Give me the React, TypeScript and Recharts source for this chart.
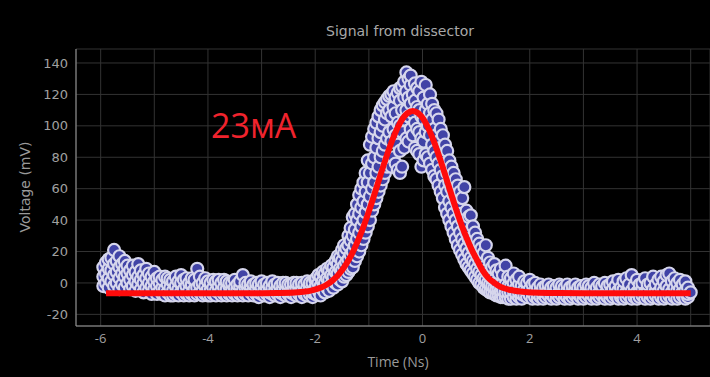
import { CartesianGrid, ComposedChart, Line, Scatter, XAxis, YAxis } from "recharts"

const WIDTH = 710
const HEIGHT = 377

// each row: time (ns), then the voltages (mV) read at about that time
const baselineBefore: number[][] = [
  [-5.95, -2, 4, 10], [-5.9, 0, 6, 13], [-5.85, -3, 3, 9, 15], [-5.8, 1, 8, 16],
  [-5.75, -2, 5, 12, 21], [-5.7, 0, 7, 14], [-5.65, -4, 3, 10, 17], [-5.6, -1, 6, 12],
  [-5.55, -3, 4, 9, 14], [-5.5, 0, 6, 11], [-5.45, -4, 2, 8], [-5.4, -2, 5, 11],
  [-5.35, -5, 1, 7], [-5.3, -1, 4, 12], [-5.25, -4, 2, 8], [-5.2, -6, 0, 5],
  [-5.15, -3, 3, 9], [-5.1, -5, 0, 6], [-5.05, -7, -2, 4], [-5.0, -4, 1, 7],
  [-4.95, -7, -2, 3], [-4.9, -5, 0, 4], [-4.85, -7, -3, 2], [-4.8, -8, -4, 4],
  [-4.75, -6, -1, 3], [-4.7, -8, -3, 2], [-4.65, -8, -5, 1], [-4.6, -7, -2, 4],
  [-4.55, -8, -4, 1], [-4.5, -6, 0, 5], [-4.45, -8, -4, 2], [-4.4, -7, -2, 3],
  [-4.35, -8, -5, 0], [-4.3, -7, -1, 3], [-4.25, -8, -4, 2], [-4.2, -7, -3, 9],
  [-4.15, -6, -1, 4], [-4.1, -8, -5, 0], [-4.05, -7, -2, 3], [-4.0, -8, -4, 1],
  [-3.95, -8, -5, 0], [-3.9, -7, -3, 2], [-3.85, -8, -5, 1], [-3.8, -6, -2, 2],
  [-3.75, -8, -5, 0], [-3.7, -7, -3, 2], [-3.65, -8, -4, 1], [-3.6, -7, -2, 0],
  [-3.55, -8, -5, 0], [-3.5, -7, -3, 2], [-3.45, -8, -4, -1], [-3.4, -7, -2, 1],
  [-3.35, -8, -5, 5], [-3.3, -7, -3, 0], [-3.25, -8, -4, -1], [-3.2, -6, -2, 1],
  [-3.15, -8, -5, -1], [-3.1, -7, -3, 0], [-3.05, -9, -6, -1], [-3.0, -7, -3, 1],
  [-2.95, -8, -5, -1], [-2.9, -7, -3, 0], [-2.85, -9, -6, -2], [-2.8, -7, -3, 1],
  [-2.75, -8, -5, -1], [-2.7, -7, -3, 0], [-2.65, -9, -6, -2], [-2.6, -7, -3, 0],
  [-2.55, -8, -5, 0], [-2.5, -7, -3, -1], [-2.45, -9, -6, -1], [-2.4, -7, -3, 0],
  [-2.35, -8, -4, 0], [-2.3, -7, -5, -1], [-2.25, -9, -4, 0], [-2.2, -7, -5, -1],
  [-2.15, -8, -3, 1], [-2.1, -7, -4, 0], [-2.05, -9, -6, 0], [-2.0, -7, -3, 2],
]

const pulseRise: number[][] = [
  [-1.98, -7, -2, 3], [-1.94, -5, 0, 5], [-1.9, -8, -2, 4], [-1.86, -4, 1, 7],
  [-1.82, -6, 0, 6], [-1.78, -3, 3, 9], [-1.74, -5, 2, 8], [-1.7, -1, 5, 11],
  [-1.66, -3, 4, 10], [-1.62, 0, 7, 14], [-1.58, -1, 6, 12, 17], [-1.54, 2, 9, 16],
  [-1.5, 1, 8, 14, 21], [-1.46, 4, 11, 19, 24], [-1.42, 5, 13, 22], [-1.38, 7, 15, 24, 30],
  [-1.34, 9, 18, 27, 35], [-1.3, 10, 20, 30, 42], [-1.26, 14, 24, 34, 44], [-1.22, 17, 28, 40, 50],
  [-1.18, 20, 32, 44, 56], [-1.14, 24, 36, 48, 60], [-1.1, 28, 40, 52, 64], [-1.06, 32, 45, 58, 70],
  [-1.02, 36, 50, 64, 78], [-0.98, 40, 55, 70, 88], [-0.94, 46, 60, 76, 93], [-0.9, 50, 64, 80, 98],
  [-0.86, 54, 70, 86, 102], [-0.82, 58, 74, 92, 106], [-0.78, 62, 80, 96, 110],
]

const pulsePeak: number[][] = [
  [-0.74, 66, 84, 100, 113], [-0.7, 70, 88, 104, 115], [-0.66, 74, 92, 108, 117],
  [-0.62, 78, 96, 110, 119], [-0.58, 74, 90, 106, 120], [-0.54, 80, 98, 112, 122],
  [-0.5, 76, 94, 108, 118], [-0.46, 72, 88, 102, 121], [-0.42, 70, 84, 100, 116, 124],
  [-0.38, 74, 96, 110, 125], [-0.34, 86, 104, 118, 128], [-0.3, 92, 110, 122, 134],
  [-0.26, 90, 106, 118, 130], [-0.22, 98, 114, 126, 132], [-0.18, 94, 108, 120],
  [-0.14, 86, 102, 116, 127], [-0.1, 84, 98, 112, 124], [-0.06, 82, 96, 110, 122],
  [-0.02, 74, 92, 106, 128], [0.02, 78, 90, 104, 118], [0.06, 82, 96, 110, 126],
  [0.1, 80, 100, 114], [0.14, 76, 94, 108, 120], [0.18, 72, 88, 104, 114],
  [0.22, 68, 84, 98, 110], [0.26, 66, 80, 94, 108],
]

const pulseFall: number[][] = [
  [0.3, 62, 76, 90, 104], [0.34, 58, 72, 86, 98], [0.38, 54, 68, 80, 94], [0.42, 48, 62, 76, 88],
  [0.46, 44, 58, 70, 84], [0.5, 40, 52, 64, 78], [0.54, 36, 48, 60, 74], [0.58, 32, 44, 56, 70],
  [0.62, 28, 40, 52, 66], [0.66, 24, 36, 48, 62], [0.7, 21, 32, 44, 58], [0.74, 18, 28, 40, 54],
  [0.78, 15, 25, 36, 61], [0.82, 12, 22, 32, 46], [0.86, 10, 19, 28, 42], [0.9, 8, 16, 26, 43],
  [0.94, 6, 14, 22, 36], [0.98, 4, 12, 20, 32], [1.02, 2, 9, 17, 28], [1.06, 0, 7, 14, 25],
  [1.1, -1, 5, 12, 22], [1.14, -3, 3, 10, 19], [1.18, -4, 2, 8, 24], [1.22, -5, 0, 6, 16],
  [1.26, -6, -1, 4, 13], [1.3, -6, -2, 3, 10], [1.34, -7, -3, 2, 12], [1.38, -8, -4, 0, 8],
  [1.42, -8, -4, 1, 6], [1.46, -9, -5, -1, 9], [1.5, -9, -5, 0, 5], [1.55, -9, -6, -1, 11],
  [1.6, -10, -6, -2, 4], [1.65, -10, -6, -2, 3], [1.7, -9, -5, 0, 6], [1.75, -10, -7, -3, 2],
  [1.8, -9, -6, -1, 4], [1.85, -10, -7, -2], [1.9, -8, -4, 1],
]

const baselineAfter: number[][] = [
  [1.95, -9, -5, 0], [2.0, -8, -4, 2], [2.05, -10, -6, -1], [2.1, -9, -5, 0],
  [2.15, -10, -7, -3], [2.2, -9, -5, -1], [2.25, -10, -7, -3], [2.3, -9, -6, -2],
  [2.35, -8, -4, -1], [2.4, -10, -7, -3], [2.45, -9, -5, -2], [2.5, -10, -7, -3],
  [2.55, -9, -6, -1], [2.6, -8, -4, -2], [2.65, -10, -7, -3], [2.7, -9, -5, -1],
  [2.75, -10, -7, -3], [2.8, -9, -6, -2], [2.85, -8, -4, -1], [2.9, -10, -7, -3],
  [2.95, -9, -5, -2], [3.0, -10, -7, -3], [3.05, -9, -6, -1], [3.1, -8, -4, -2],
  [3.15, -10, -7, -3], [3.2, -9, -5, 0], [3.25, -10, -7, -3], [3.3, -9, -6, -1],
  [3.35, -8, -4, -2], [3.4, -10, -7, 0], [3.45, -9, -5, -2], [3.5, -10, -7, -1],
  [3.55, -9, -4, 1], [3.6, -8, -6, -2], [3.65, -10, -5, 2], [3.7, -9, -7, -3],
  [3.75, -10, -4, 1], [3.8, -9, -6, 3], [3.85, -8, -4, -1], [3.9, -10, -5, 5],
  [3.95, -9, -6, -2], [4.0, -10, -6, 2], [4.05, -9, -5, -1], [4.1, -8, -4, 0],
  [4.15, -10, -6, 3], [4.2, -9, -5, -1], [4.25, -10, -7, 0], [4.3, -9, -4, 4],
  [4.35, -8, -5, -1], [4.4, -10, -6, 2], [4.45, -9, -3, 4], [4.5, -10, -5, 1],
  [4.55, -9, -2, 5], [4.6, -8, -4, 6], [4.65, -10, -6, 1], [4.7, -9, -3, 3],
  [4.75, -10, -5, 0], [4.8, -9, -4, 2], [4.85, -8, -6, -1], [4.9, -10, -5, 1],
  [4.95, -9, -7, -3], [5.0, -6],
]

// gaussian fit (red curve)
const fitTimes = [
  -5.9, -3.0, -2.7, -2.38, -2.18, -2.08, -1.98, -1.88, -1.78, -1.68, -1.58, -1.48, -1.38,
  -1.28, -1.18, -1.08, -0.98, -0.88, -0.78, -0.68, -0.58, -0.48, -0.38, -0.28, -0.18, -0.08,
  0.02, 0.12, 0.22, 0.32, 0.42, 0.52, 0.62, 0.72, 0.82, 0.92, 1.02, 1.12, 1.22, 1.32, 1.42,
  1.52, 1.62, 1.72, 1.82, 2.02, 2.34, 3.0, 5.0,
]
const fitVolts = [
  -6.5, -6.5, -6.4, -6.1, -5.5, -4.9, -4.0, -2.8, -1.0, 1.5, 4.8, 9.0, 14.4,
  21.0, 28.8, 37.7, 47.6, 58.2, 69.1, 79.6, 89.4, 97.7, 104.1, 108.1, 109.5, 108.1,
  104.1, 97.7, 89.4, 79.6, 69.1, 58.2, 47.6, 37.7, 28.8, 21.0, 14.4, 8.0, 3.5, 0.5, -1.8,
  -3.4, -4.3, -5.0, -5.5, -6.1, -6.4, -6.5, -6.6,
]

const xTicks = [-6, -5, -4, -3, -2, -1, 0, 1, 2, 3, 4, 5]
const yTicks = [-20, 0, 20, 40, 60, 80, 100, 120, 140]
const xDomain = [-6.46, 5.36]
const yDomain = [-27.4, 148.9]

function toPoints(rows: number[][]) {
  return rows.flatMap(([t, ...vs]) => vs.map((v) => ({ t, v })))
}

const samples = [
  ...toPoints(baselineBefore),
  ...toPoints(pulseRise),
  ...toPoints(pulsePeak),
  ...toPoints(pulseFall),
  ...toPoints(baselineAfter),
]
const fit = fitTimes.map((t, i) => ({ t, v: fitVolts[i] }))

const Dot = (props: any) => (
  <circle cx={props.cx} cy={props.cy} r={6} fill="#4143a6" stroke="#d6d6ec" strokeWidth={2.2} />
)

const tickStyle = { fontSize: 13, fill: "#a0a0a0", fontFamily: "DejaVu Sans" }
const labelColor = "#9a9a9a"
const layer = { position: "absolute" as const, left: 0, top: 0 }

export default function App() {
  return (
    <div
      style={{
        ...layer,
        width: WIDTH,
        height: HEIGHT,
        background: "#000",
        overflow: "hidden",
      }}
    >
      <div style={layer}>
        <ComposedChart
          width={WIDTH}
          height={HEIGHT}
          margin={{ top: 49, right: 0, bottom: 21, left: 30 }}
        >
          <CartesianGrid stroke="#333" strokeWidth={1} />
          <XAxis
            type="number"
            dataKey="t"
            domain={xDomain}
            ticks={xTicks}
            allowDataOverflow
            height={30}
            tickLine={false}
            stroke="#9a9a9a"
            tick={{ ...tickStyle, fontFamily: "Open Sans" }}
            tickFormatter={(v: number) => (v % 2 === 0 ? String(v) : "")}
          />
          <YAxis
            type="number"
            dataKey="v"
            domain={yDomain}
            ticks={yTicks}
            allowDataOverflow
            width={46}
            tickLine={false}
            stroke="#9a9a9a"
            tick={tickStyle}
          />
          <Scatter data={samples} shape={Dot} isAnimationActive={false} />
        </ComposedChart>
      </div>

      {/* fit curve on its own layer so it sits above the dots */}
      <div style={layer}>
        <ComposedChart
          width={WIDTH}
          height={HEIGHT}
          margin={{ top: 49, right: 0, bottom: 51, left: 76 }}
        >
          <XAxis type="number" dataKey="t" domain={xDomain} allowDataOverflow hide />
          <YAxis type="number" dataKey="v" domain={yDomain} allowDataOverflow hide />
          <Line
            data={fit}
            dataKey="v"
            type="monotone"
            stroke="#ff0b0b"
            strokeWidth={6}
            dot={false}
            activeDot={false}
            isAnimationActive={false}
          />
        </ComposedChart>
      </div>

      <div
        style={{
          position: "absolute",
          left: 300,
          top: 23,
          width: 200,
          textAlign: "center",
          fontFamily: "DejaVu Sans",
          fontSize: 14,
          lineHeight: "16px",
          color: "#a8a8a8",
          whiteSpace: "nowrap",
        }}
      >
        Signal from dissector
      </div>
      <div
        style={{
          position: "absolute",
          left: 25,
          top: 187,
          transform: "translate(-50%, -50%) rotate(-90deg)",
          fontFamily: "DejaVu Sans",
          fontSize: 14,
          color: labelColor,
          whiteSpace: "nowrap",
        }}
      >
        Voltage (mV)
      </div>
      <div
        style={{
          position: "absolute",
          left: 398,
          top: 361,
          transform: "translate(-50%, -50%)",
          fontFamily: "Open Sans",
          fontSize: 14,
          color: labelColor,
          whiteSpace: "nowrap",
        }}
      >
        Time (Ns)
      </div>
      <div
        style={{
          position: "absolute",
          left: 211,
          top: 108,
          fontFamily: "Open Sans",
          fontSize: 34,
          lineHeight: "34px",
          color: "#f0232d",
          whiteSpace: "nowrap",
        }}
      >
        23мА
      </div>
    </div>
  )
}
